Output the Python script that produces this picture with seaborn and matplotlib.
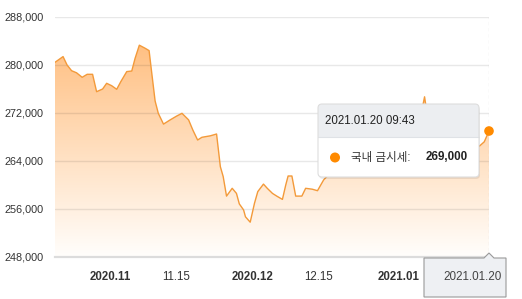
import matplotlib
matplotlib.use("Agg")
import matplotlib.pyplot as plt
import matplotlib.dates as mdates
from matplotlib.patches import FancyBboxPatch, Polygon, Rectangle, Circle
from matplotlib.transforms import Affine2D
import seaborn as sns
import numpy as np
import pandas as pd

# ---------------- data ----------------
base_date = "2020-11-01"
day_offsets = [-11.6, -9.9, -9.05, -8.1, -7.05, -5.87, -4.81, -3.67, -2.82, -1.55,
               -0.7, 0.36, 1.42, 2.27, 3.54, 4.6, 5.3, 6.2, 7.4, 8.26,
               8.83, 9.53, 10.2, 11.3, 12.7, 14.1, 15.2, 16.6, 17.5, 18.5,
               19.4, 21.2, 22.5, 23.3, 23.9, 24.6, 25.8, 26.7, 27.3, 28.2,
               28.6, 29.6, 30.5, 31.2, 32.4, 33.2, 34.3, 35.2, 36.4, 37.1,
               37.6, 38.4, 39.2, 40.5, 41.3, 42.7, 43.8, 45.1, 46.5, 48,
               50, 52, 54, 56, 58, 60, 62, 64, 65.6, 66.4,
               67.2, 68.5, 70, 72, 74, 76, 78, 79, 80]
prices = [280450, 281400, 280000, 279050, 278700, 277950, 278450, 278450, 275550, 276000,
          276950, 276550, 275950, 277200, 278900, 279000, 281100, 283300, 282800, 282400,
          278600, 274000, 271950, 270150, 270850, 271500, 271950, 270850, 269150, 267500,
          267950, 268200, 268500, 263050, 261400, 258150, 259450, 258600, 256850, 255850,
          254700, 253800, 256950, 258900, 260150, 259450, 258600, 258150, 257600, 260000,
          261500, 261500, 258150, 258150, 259450, 259300, 259050, 260850, 262000, 262800,
          263500, 262800, 263200, 264000, 263600, 264200, 265500, 268500, 271500, 274700,
          270500, 266500, 264800, 265800, 267000, 266200, 266500, 267200, 269000]
ytick_values = [248000, 256000, 264000, 272000, 280000, 288000]
xtick_dates = ["2020-11-01", "2020-11-15", "2020-12-01", "2020-12-15", "2021-01-01"]
xtick_labels = ["2020.11", "11.15", "2020.12", "12.15", "2021.01"]
xtick_bold = [True, False, True, False, True]
tooltip_title = "2021.01.20 09:43"
tooltip_series = "국내 금시세:"
tooltip_value = "269,000"
cursor_label = "2021.01.20"

dates = pd.Timestamp(base_date) + pd.to_timedelta(day_offsets, unit="D")
df = pd.DataFrame({"date": dates, "price": prices})

# ---------------- style ----------------
sns.set_style("white")
plt.rcParams["font.family"] = ["Liberation Sans", "Noto Sans CJK KR"]

W, H = 522, 299
fig = plt.figure(figsize=(W / 100, H / 100), dpi=100)
ax = fig.add_axes([55 / W, 1 - 257 / H, (489 - 55) / W, (257 - 17) / H])

ymin, ymax = ytick_values[0], ytick_values[-1]
x0 = mdates.date2num(df["date"].iloc[0])
x1 = mdates.date2num(df["date"].iloc[-1])

sns.lineplot(data=df, x="date", y="price", ax=ax, color="#f39a3a", lw=1.0, zorder=4)

# gradient fill under the line
poly = ax.fill_between(mdates.date2num(df["date"]), df["price"], ymin,
                       color="none", lw=0)
top_c = np.array([255, 184, 115]) / 255
bot_c = np.array([255, 254, 252]) / 255
g = np.linspace(1, 0, 256).reshape(-1, 1, 1)
img = bot_c + (top_c - bot_c) * g
im = ax.imshow(img, extent=[x0, x1, ymin, ymax], aspect="auto",
               origin="upper", zorder=1, interpolation="bilinear")
im.set_clip_path(poly.get_paths()[0], ax.transData)

# grid lines
for v in ytick_values[1:]:
    ax.axhline(v, color=(0, 0, 0, 0.09), lw=1, zorder=2)

ax.set_xlim(x0, x1)
ax.set_ylim(ymin, ymax)

# axes styling
for s in ["top", "left", "right"]:
    ax.spines[s].set_visible(False)
ax.spines["bottom"].set_color("#dcdcdc")
ax.spines["bottom"].set_linewidth(1.6)
ax.set_xlabel("")
ax.set_ylabel("")

ax.set_yticks(ytick_values)
ax.set_yticklabels([f"{v:,}" for v in ytick_values])
ax.tick_params(axis="y", length=0, pad=8, labelsize=7.8, labelcolor="#333333")

ax.set_xticks(mdates.date2num(pd.to_datetime(xtick_dates)))
ax.set_xticklabels(xtick_labels)
for lab, b in zip(ax.get_xticklabels(), xtick_bold):
    lab.set_fontweight("bold" if b else "normal")
ax.tick_params(axis="x", length=4, width=1, color="#cccccc", pad=6,
               labelsize=8.3, labelcolor="#333333")

# cursor line and end point
ax.axvline(x1, color="#999999", lw=0.8, ls=(0, (3, 2.5)), alpha=0.8, zorder=5)
ax.scatter([df["date"].iloc[-1]], [df["price"].iloc[-1]], s=48, color="#ff8a00",
           edgecolor="none", zorder=7, clip_on=False)

# ---------------- tooltip (pixel coordinates, top-left origin) ----------------
px = Affine2D().scale(1 / 100) + fig.dpi_scale_trans


def Y(y):
    return H - y


tx0, tx1, ty0, ty1, tsep = 318, 479, 104, 177, 137
fig.add_artist(FancyBboxPatch((tx0 + 1, Y(ty1) - 2), tx1 - tx0, ty1 - ty0,
                              boxstyle="round,pad=0,rounding_size=4",
                              fc=(0, 0, 0, 0.08), ec="none", transform=px, zorder=10))
fig.add_artist(FancyBboxPatch((tx0, Y(ty1)), tx1 - tx0, ty1 - ty0,
                              boxstyle="round,pad=0,rounding_size=4",
                              fc="#eceef1", ec="none", transform=px, zorder=11))
fig.add_artist(Rectangle((tx0, Y(170)), tx1 - tx0, 170 - tsep,
                         fc="white", ec="none", transform=px, zorder=12))
fig.add_artist(FancyBboxPatch((tx0, Y(ty1)), tx1 - tx0, ty1 - 150,
                              boxstyle="round,pad=0,rounding_size=4",
                              fc="white", ec="none", transform=px, zorder=12))
fig.add_artist(plt.Line2D([tx0, tx1], [Y(tsep), Y(tsep)], color="#dfe2e6",
                          lw=0.8, transform=px, zorder=13))
fig.add_artist(FancyBboxPatch((tx0, Y(ty1)), tx1 - tx0, ty1 - ty0,
                              boxstyle="round,pad=0,rounding_size=4",
                              fc="none", ec="#dddddd", lw=0.8, transform=px, zorder=14))
fig.text(325, Y(121), tooltip_title, transform=px, fontsize=8.3, color="#222222",
         va="center", ha="left", zorder=15)
fig.add_artist(Circle((335, Y(157.5)), 5, fc="#ff8a00", ec="none", transform=px, zorder=15))
fig.text(351, Y(157.5), tooltip_series, transform=px, fontsize=8.3, color="#333333",
         va="center", ha="left", zorder=15,
         family=["Liberation Sans", "Noto Sans CJK KR"])
fig.text(426, Y(157.5), tooltip_value, transform=px, fontsize=8.4, color="#222222",
         fontweight="bold", va="center", ha="left", zorder=15)

# cursor label box at the bottom
verts = [(424, 258), (484, 258), (489, 253), (494, 258), (506, 258),
         (506, 297), (424, 297)]
fig.add_artist(Polygon([(x, Y(y)) for x, y in verts], closed=True, fc="#eef0f3",
                       ec="#9a9a9a", lw=0.8, transform=px, zorder=16))
fig.text(472.5, Y(276.5), cursor_label, transform=px, fontsize=8.4, color="#444444",
         va="center", ha="center", zorder=17)

fig.savefig("out.png", dpi=100)
